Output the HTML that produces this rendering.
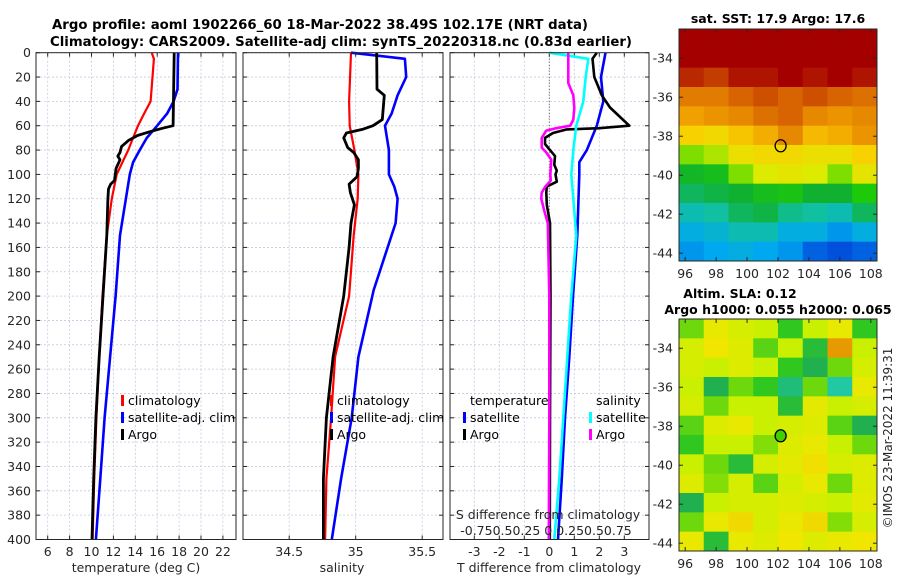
<!DOCTYPE html>
<html><head><meta charset="utf-8"><style>
html,body{margin:0;padding:0;background:#fff;}
svg{display:block;font-family:"DejaVu Sans","Liberation Sans",sans-serif;}
</style></head><body>
<svg id="fig" width="900" height="580" viewBox="0 0 900 580" xmlns="http://www.w3.org/2000/svg">
<text x="52" y="29" font-size="13" font-weight="bold" fill="#000" textLength="536" lengthAdjust="spacingAndGlyphs">Argo profile: aoml 1902266_60 18-Mar-2022 38.49S 102.17E (NRT data)</text>
<text x="50" y="46" font-size="13" font-weight="bold" fill="#000" textLength="582" lengthAdjust="spacingAndGlyphs">Climatology: CARS2009. Satellite-adj clim: synTS_20220318.nc (0.83d earlier)</text>
<text x="778" y="23" font-size="12.5" font-weight="bold" text-anchor="middle">sat. SST: 17.9 Argo: 17.6</text>
<text x="740" y="298" font-size="12.5" font-weight="bold" text-anchor="middle">Altim. SLA: 0.12</text>
<text x="778" y="314" font-size="12.5" font-weight="bold" text-anchor="middle">Argo h1000: 0.055 h2000: 0.065</text>
<text x="0" y="0" font-size="12" fill="#262626" text-anchor="middle" transform="translate(892,438) rotate(-90)">©IMOS 23-Mar-2022 11:39:31</text>
</svg>
<script>
// ---------- data ----------
const depthTicks=[0,20,40,60,80,100,120,140,160,180,200,220,240,260,280,300,320,340,360,380,400];
const tempTicks=[6,8,10,12,14,16,18,20,22];
const salTicks=[34.5,35,35.5];
const dTTicks=[-3,-2,-1,0,1,2,3];

const tClimDepth=[0,5,40,50,60,70,80,100,120,150,200,250,300,350,400];
const tClimVal=[15.5,15.7,15.4,14.8,14.25,13.8,13.35,12.3,11.85,11.4,11.0,10.7,10.45,10.25,10.1];
const tSatDepth=[0,30,40,50,60,70,80,90,100,150,200,250,300,350,400];
const tSatVal=[17.9,17.85,17.5,16.9,16.0,15.05,14.4,13.8,13.5,12.6,12.2,11.7,11.2,10.8,10.4];
const tArgoDepth=[0,60,62,65,68,72,77,82,85,88,95,105,108,112,120,150,200,250,300,350,400];
const tArgoVal=[17.55,17.45,16.5,15.3,14.2,13.4,12.75,12.6,12.4,12.6,12.25,12.1,11.75,11.55,11.5,11.4,11.05,10.7,10.4,10.2,10.05];

const sClimDepth=[0,40,60,80,100,120,150,200,250,300,350,400];
const sClimVal=[34.965,34.95,34.955,34.99,35.02,35.015,34.985,34.95,34.845,34.815,34.78,34.77];
const sSatDepth=[0,5,20,35,50,60,80,100,110,120,140,195,250,300,350,400];
const sSatVal=[34.965,35.37,35.38,35.315,35.27,35.22,35.25,35.25,35.29,35.315,35.3,35.135,35.02,34.97,34.89,34.82];
const sArgoDepth=[0,30,35,55,60,63,66,70,78,82,88,95,102,105,108,115,125,140,160,200,250,300,350,400];
const sArgoVal=[35.158,35.16,35.215,35.2,35.13,35.05,34.93,34.91,34.94,34.985,35.02,35.02,35.01,34.98,34.95,34.96,34.99,34.965,34.95,34.91,34.83,34.78,34.757,34.757];

const dTSatDepth=[0,20,40,60,80,90,100,150,200,250,300,350,400];
const dTSatVal=[2.25,2.07,2.16,1.9,1.5,1.2,1.2,1.12,0.95,0.8,0.63,0.5,0.35];
const dTArgoDepth=[0,5,20,35,45,60,62,63,66,70,75,80,85,92,97,100,106,110,115,125,140,200,300,400];
const dTArgoVal=[1.9,1.73,1.8,2.1,2.43,3.2,2.0,0.7,0.15,-0.17,-0.17,0.03,0.23,0.2,0.3,0.25,0.3,-0.1,-0.12,-0.1,0.03,0.05,0.03,0.02];
const dSSatDepth=[0,5,20,40,60,80,100,150,200,250,300,350,400];
const dSSatVal=[0.0,0.39,0.364,0.34,0.27,0.24,0.22,0.27,0.22,0.18,0.14,0.1,0.05];
const dSArgoDepth=[0,25,35,45,55,60,62,64,70,78,82,88,95,100,105,110,115,120,130,140,160,200,300,400];
const dSArgoVal=[0.19,0.19,0.24,0.25,0.24,0.21,0.07,-0.03,-0.076,-0.076,-0.03,0.02,0.015,0.01,0.015,-0.04,-0.076,-0.08,-0.05,-0.015,-0.01,0.0,0.0,-0.005];

const lonTicks=[96,98,100,102,104,106,108];
const latTicks=[-34,-36,-38,-40,-42,-44];
const sstGrid=[
[19,19,19,19,19,19,19,19],
[18.9,18.9,18.95,18.9,18.95,18.9,18.9,18.9],
[18.4,18.3,18.5,18.5,18.6,18.5,18.6,18.5],
[17.9,17.9,18.1,18.2,18.1,18.2,18.1,18.0],
[17.6,17.7,17.8,18.0,18.1,17.8,17.7,17.8],
[17.2,17.1,17.3,17.5,17.8,17.4,17.5,17.7],
[16.6,16.7,17.0,17.1,17.1,17.0,17.0,17.2],
[16.0,16.1,16.6,16.8,16.9,16.8,16.6,16.9],
[15.7,15.8,15.9,16.1,16.2,15.9,15.9,16.3],
[15.3,15.4,15.7,15.8,15.5,15.4,15.3,15.7],
[15.0,15.1,15.3,15.3,15.0,15.0,14.8,15.0],
[14.8,14.9,15.0,14.9,14.8,14.5,14.4,14.5]];
const slaGrid=[
[-0.05,0.05,0.02,0.0,-0.08,0.0,0.05,-0.08],
[0.02,0.06,0.03,-0.06,0.0,-0.1,0.18,0.0],
[0.02,0.0,0.03,0.0,-0.08,-0.12,-0.05,0.02],
[0.0,-0.12,-0.05,-0.08,-0.15,-0.05,-0.18,0.05],
[0.02,-0.05,0.0,0.0,-0.1,0.04,0.0,0.02],
[-0.06,0.03,0.05,0.0,0.02,0.03,-0.06,-0.12],
[-0.08,0.0,0.0,-0.04,0.03,0.05,0.0,-0.05],
[0.0,-0.05,-0.1,0.02,0.04,0.07,0.02,0.03],
[0.03,-0.04,0.02,-0.06,0.02,0.05,-0.05,0.03],
[-0.12,0.0,0.02,0.02,0.03,0.02,0.0,0.04],
[-0.05,0.05,0.08,0.02,0.05,0.08,-0.04,0.02],
[0.05,-0.1,0.05,0.03,0.06,0.03,0.05,0.06]];
const argoLon=102.17, argoLat=-38.49;

// ---------- drawing ----------
const NS='http://www.w3.org/2000/svg';
const svg=document.getElementById('fig');
function mk(tag,attrs,parent){const e=document.createElementNS(NS,tag);for(const k in attrs)e.setAttribute(k,attrs[k]);(parent||svg).appendChild(e);return e;}
const TOP=52.7,BOT=539.5;
const yD=d=>TOP+(BOT-TOP)*d/400;
const xT=v=>47.7+10.95*(v-6);
const xS=v=>355.7+133*(v-35);
const xdT=v=>549.3+25*v;
const xdS=v=>549.3+100*v;
const panels=[[36,236],[243,443],[450,649]];

panels.forEach((p,i)=>{
  const g=mk('g',{});
  
  
  mk('rect',{x:p[0],y:TOP,width:p[1]-p[0],height:BOT-TOP,fill:'#fff'},g);
  depthTicks.forEach(d=>{
    const l=mk('line',{x1:p[0],x2:p[1],y1:yD(d),y2:yD(d),stroke:'#c4c8e0','stroke-width':0.8,'stroke-dasharray':'2,2'},g);
    
    
    mk('line',{x1:p[0],x2:p[0]+4,y1:yD(d),y2:yD(d),stroke:'#262626'},g);
    mk('line',{x1:p[1],x2:p[1]-4,y1:yD(d),y2:yD(d),stroke:'#262626'},g);
  });
  const xs=i==0?tempTicks.map(xT):i==1?salTicks.map(xS):dTTicks.map(xdT);
  xs.forEach(x=>{
    mk('line',{x1:x,x2:x,y1:TOP,y2:BOT,stroke:'#c4c8e0','stroke-width':0.8,'stroke-dasharray':'2,2'},g);
    mk('line',{x1:x,x2:x,y1:TOP,y2:TOP+4,stroke:'#262626'},g);
    mk('line',{x1:x,x2:x,y1:BOT,y2:BOT-4,stroke:'#262626'},g);
  });
});
depthTicks.forEach(d=>{
  const t=mk('text',{x:31,y:yD(d)+4.5,'font-size':12.5,fill:'#262626','text-anchor':'end'});
  t.textContent=d;
  
  
});
function xlab(arr,fx,name){arr.forEach(v=>{const t=mk('text',{x:fx(v),y:556,'font-size':12.5,fill:'#262626','text-anchor':'middle'});t.textContent=(v<0?'-':'')+Math.abs(v);

});}
xlab(tempTicks,xT,'temperature-tick-label');
xlab(salTicks,xS,'salinity-tick-label');
xlab(dTTicks,xdT,'t-diff-tick-label');
[['temperature (deg C)',136,'temperature-axis-title'],['salinity',342,'salinity-axis-title'],['T difference from climatology',549,'t-diff-axis-title']].forEach(a=>{
  const t=mk('text',{x:a[1],y:572,'font-size':12.5,fill:'#262626','text-anchor':'middle'});t.textContent=a[0];
  
  
});
mk('line',{x1:xdT(0),x2:xdT(0),y1:TOP,y2:BOT,stroke:'#555','stroke-width':1,'stroke-dasharray':'1,2'});

function line(depths,vals,fx,color,w,name){
  const pts=depths.map((d,i)=>fx(vals[i]).toFixed(1)+','+yD(d).toFixed(1)).join(' ');
  const e=mk('polyline',{points:pts,fill:'none',stroke:color,'stroke-width':w,'stroke-linejoin':'round'});
  
  
}
line(tClimDepth,tClimVal,xT,'#ff0000',2.2,'temp-climatology-line');
line(tSatDepth,tSatVal,xT,'#0000ff',2.6,'temp-satellite-line');
line(tArgoDepth,tArgoVal,xT,'#000',2.8,'temp-argo-line');
line(sClimDepth,sClimVal,xS,'#ff0000',2.2,'sal-climatology-line');
line(sSatDepth,sSatVal,xS,'#0000ff',2.6,'sal-satellite-line');
line(sArgoDepth,sArgoVal,xS,'#000',2.8,'sal-argo-line');
line(dTSatDepth,dTSatVal,xdT,'#0000ff',2.6,'tdiff-satellite-line');
line(dTArgoDepth,dTArgoVal,xdT,'#000',2.6,'tdiff-argo-line');
line(dSSatDepth,dSSatVal,xdS,'#00ffff',2.6,'sdiff-satellite-line');
line(dSArgoDepth,dSArgoVal,xdS,'#ff00ff',2.6,'sdiff-argo-line');

panels.forEach(p=>mk('rect',{x:p[0],y:TOP,width:p[1]-p[0],height:BOT-TOP,fill:'none',stroke:'#262626','stroke-width':1}));

function leg(x,y,color,label,name){
  const g=mk('g',{});
  
  
  mk('rect',{x:x,y:y-10,width:3,height:11,fill:color},g);
  const t=mk('text',{x:x+7,y:y,'font-size':12.5,fill:'#000'},g);t.textContent=label;
}
leg(121,405,'#ff0000','climatology','legend-climatology');
leg(121,422,'#0000ff','satellite-adj. clim','legend-satellite-adj');
leg(121,439,'#000','Argo','legend-argo');
leg(330,405,'#ff0000','climatology','legend-climatology-sal');
leg(330,422,'#0000ff','satellite-adj. clim','legend-satellite-adj-sal');
leg(330,439,'#000','Argo','legend-argo-sal');
{const t=mk('text',{x:470,y:405,'font-size':12.5});t.textContent='temperature';

}
{const t=mk('text',{x:596,y:405,'font-size':12.5});t.textContent='salinity';

}
leg(463,422,'#0000ff','satellite','legend-t-satellite');
leg(463,439,'#000','Argo','legend-t-argo');
leg(589,422,'#00ffff','satellite','legend-s-satellite');
leg(589,439,'#ff00ff','Argo','legend-s-argo');
{const t=mk('text',{x:548,y:519,'font-size':12.5,fill:'#262626','text-anchor':'middle'});t.textContent='S difference from climatology';

}
{const t=mk('text',{x:546,y:535,'font-size':12.5,fill:'#262626','text-anchor':'middle'});t.textContent='-0.750.50.25 0 0.250.50.75';

}

// ---------- maps ----------
const MX0=679,MX1=877,LON0=95.6,LON1=108.4,LAT0=-32.5,LAT1=-44.4;
const mxLon=v=>MX0+(MX1-MX0)*(v-LON0)/(LON1-LON0);
const rgb=a=>'rgb('+a.join(',')+')';
function interp(stops,v){
  if(v<=stops[0][0])return rgb(stops[0][1]);
  for(let i=1;i<stops.length;i++){if(v<=stops[i][0]){const a=stops[i-1],b=stops[i],t=(v-a[0])/(b[0]-a[0]);
    return rgb([0,1,2].map(k=>Math.round(a[1][k]+(b[1][k]-a[1][k])*t)));}}
  return rgb(stops[stops.length-1][1]);
}
const sstStops=[[14.4,[0,80,220]],[14.9,[0,168,240]],[15.4,[16,192,160]],[15.9,[16,176,48]],[16.4,[32,208,0]],[16.8,[220,235,0]],[17.2,[248,210,0]],[17.6,[240,160,0]],[18.1,[215,100,0]],[18.6,[165,0,0]]];
const slaStops=[[-0.2,[32,208,192]],[-0.12,[32,176,80]],[-0.08,[48,200,32]],[-0.03,[150,228,0]],[0,[200,240,0]],[0.06,[240,230,0]],[0.12,[240,190,0]],[0.2,[228,140,0]]];
function drawMap(y0,y1,grid,stops,name,fillDot){
  const g=mk('g',{});
  
  
  const myLat=v=>y0+(y1-y0)*(v-LAT0)/(LAT1-LAT0);
  const rows=grid.length,cols=grid[0].length;
  grid.forEach((row,r)=>row.forEach((v,c)=>{
    const x=MX0+(MX1-MX0)*c/cols,y=y0+(y1-y0)*r/rows;
    const cell=mk('rect',{x:x,y:y,width:(MX1-MX0)/cols+0.5,height:(y1-y0)/rows+0.5,fill:interp(stops,v)},g);
    
    
  }));
  mk('rect',{x:MX0,y:y0,width:MX1-MX0,height:y1-y0,fill:'none',stroke:'#262626'},g);
  latTicks.forEach(l=>{const y=myLat(l);
    mk('line',{x1:MX0,x2:MX0+4,y1:y,y2:y,stroke:'#262626'},g);
    mk('line',{x1:MX1,x2:MX1-4,y1:y,y2:y,stroke:'#262626'},g);
    const t=mk('text',{x:673,y:y+4.5,'font-size':12.5,fill:'#262626','text-anchor':'end'},g);t.textContent=l;
    
    });
  lonTicks.forEach(l=>{const x=mxLon(l);
    mk('line',{x1:x,x2:x,y1:y1,y2:y1-4,stroke:'#262626'},g);
    mk('line',{x1:x,x2:x,y1:y0,y2:y0+4,stroke:'#262626'},g);
    const t=mk('text',{x:x,y:y1+17,'font-size':12.5,fill:'#262626','text-anchor':'middle'},g);t.textContent=l;
    
    });
  const m=mk('ellipse',{cx:mxLon(argoLon),cy:myLat(argoLat),rx:5.5,ry:6,fill:fillDot,stroke:'#000','stroke-width':1.3},g);
  
  
}
drawMap(29,261,sstGrid,sstStops,'sst-map','none');
drawMap(319,551,slaGrid,slaStops,'sla-map','#40d000');
</script>
</body></html>
